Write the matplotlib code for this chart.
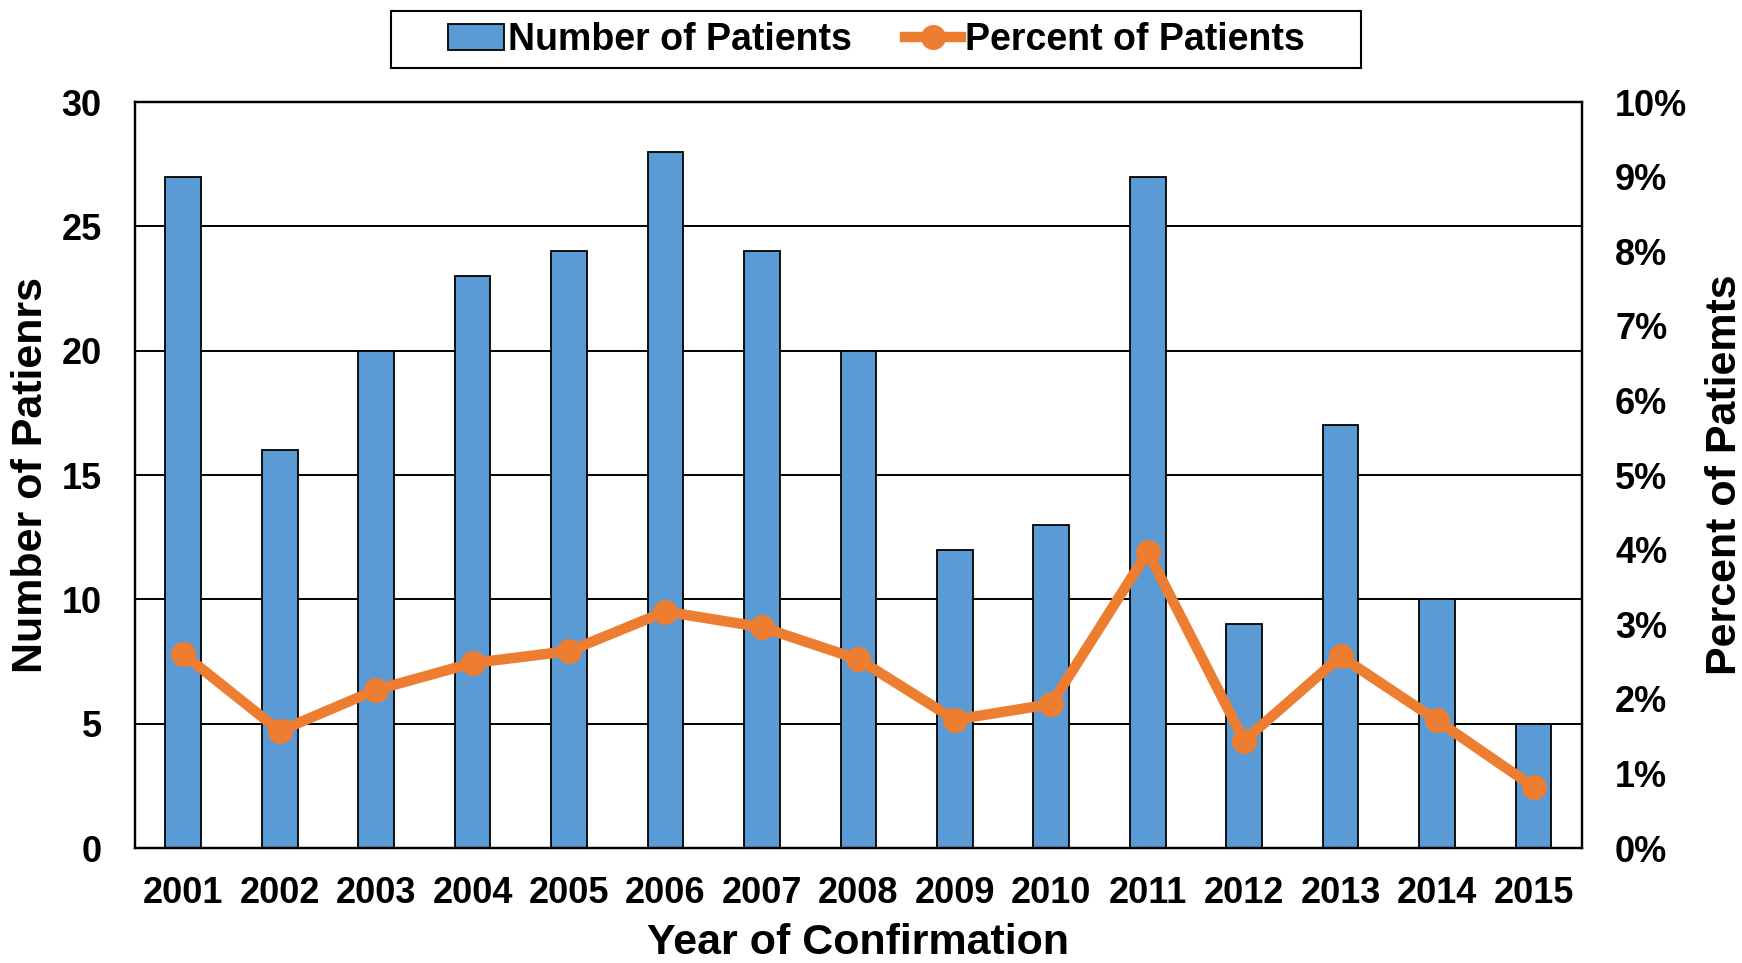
import numpy as np
import matplotlib.pyplot as plt
from matplotlib.patches import Rectangle
from matplotlib.ticker import PercentFormatter

plt.rcParams["font.family"] = ["Liberation Sans", "DejaVu Sans"]
plt.rcParams["font.weight"] = "bold"

# ── data ──────────────────────────────────────────────────────────────────
years = ["2001", "2002", "2003", "2004", "2005", "2006", "2007", "2008",
         "2009", "2010", "2011", "2012", "2013", "2014", "2015"]
n_patients = [27, 16, 20, 23, 24, 28, 24, 20, 12, 13, 27, 9, 17, 10, 5]
pct_patients = [2.60, 1.57, 2.12, 2.48, 2.64, 3.17, 2.96, 2.53,
                1.72, 1.93, 3.97, 1.44, 2.57, 1.71, 0.82]

BLUE, ORANGE = "#5B9BD5", "#ED7D31"

fig = plt.figure(figsize=(17.42, 9.63), dpi=100)
ax = fig.add_axes([0.0775, 0.1194, 0.8305, 0.7746])
x = np.arange(len(years))

# bars
ax.bar(x, n_patients, width=0.37, color=BLUE, edgecolor="black", linewidth=1.3,
       zorder=2, label="Number of Patients")
ax.set_xlim(-0.5, len(years) - 0.5)
ax.set_ylim(0, 30)
ax.set_yticks(range(0, 31, 5))
ax.yaxis.grid(True, color="black", linewidth=1.4, zorder=0)
ax.set_axisbelow(True)
ax.set_xticks(x)
ax.set_xticklabels(years)
ax.tick_params(axis="both", length=0, labelsize=26)
ax.tick_params(axis="x", pad=20)
ax.tick_params(axis="y", pad=24)
for s in ax.spines.values():
    s.set_linewidth(1.6)

# line on secondary axis
ax2 = ax.twinx()
ax2.plot(x, pct_patients, color=ORANGE, lw=7.5, marker="o", markersize=17,
         zorder=3, label="Percent of Patients")
ax2.set_ylim(0, 10)
ax2.set_yticks(range(0, 11))
ax2.yaxis.set_major_formatter(PercentFormatter(decimals=0))
ax2.tick_params(axis="y", length=0, labelsize=26, pad=24)
for s in ax2.spines.values():
    s.set_linewidth(1.6)

# labels (typos kept as in the original)
ax.set_xlabel("Year of Confirmation", fontsize=31, fontweight="bold", va="center")
ax.xaxis.set_label_coords(0.5, -0.128)
ax.set_ylabel("Number of Patienrs", fontsize=31, fontweight="bold", va="center")
ax.yaxis.set_label_coords(-0.072, 0.5)
ax2.set_ylabel("Percent of Patiemts", fontsize=31, fontweight="bold",
               va="center", rotation=90)
ax2.yaxis.set_label_coords(1.099, 0.5)

# legend, with its own wider frame
h1, l1 = ax.get_legend_handles_labels()
h2, l2 = ax2.get_legend_handles_labels()
fig.legend(h1 + h2, l1 + l2, loc="center", bbox_to_anchor=(0.503, 0.958),
           ncol=2, fontsize=27, frameon=False, handlelength=1.5,
           handletextpad=0.1, columnspacing=1.4)
fig.patches.append(Rectangle((0.2245, 0.9294), 0.5568, 0.0592,
                             transform=fig.transFigure, fill=False,
                             edgecolor="black", linewidth=1.5))

plt.savefig("out.png", dpi=100)
